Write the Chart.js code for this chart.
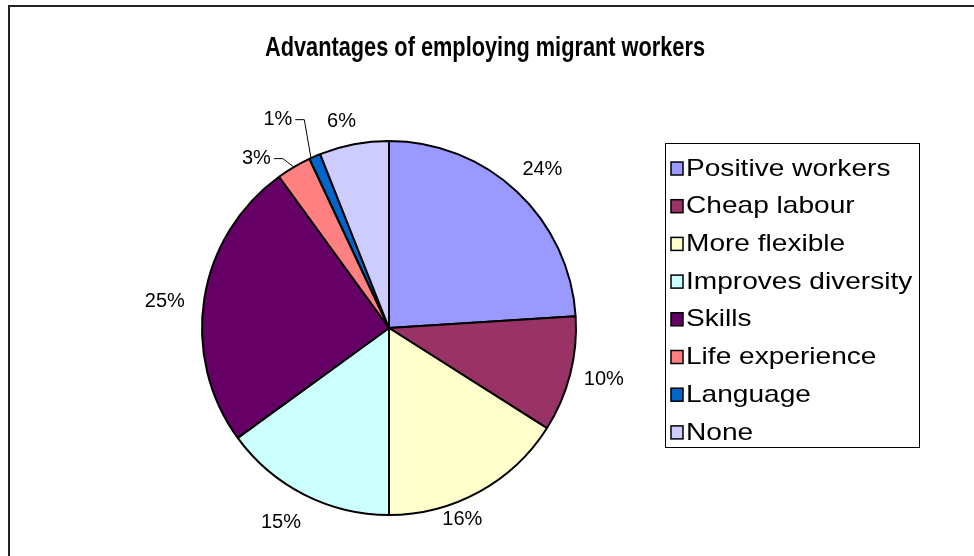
<!DOCTYPE html>
<html>
<head>
<meta charset="utf-8">
<script src="https://cdn.jsdelivr.net/npm/chart.js@4/dist/chart.umd.min.js"></script>
<style>
  html, body { margin: 0; padding: 0; background: #ffffff; }
  #wrap { position: relative; width: 974px; height: 556px; }
  canvas { display: block; }
</style>
</head>
<body>
<div id="wrap"><canvas id="pie" width="974" height="556"></canvas></div>
<script>
// Survey answers: advantages of employing migrant workers (percent of replies)
const chartTitle = 'Advantages of employing migrant workers';
const categories = ['Positive workers', 'Cheap labour', 'More flexible', 'Improves diversity',
                    'Skills', 'Life experience', 'Language', 'None'];
const shares = [24, 10, 16, 15, 25, 3, 1, 6];
const sliceColors = ['#9999FF', '#993366', '#FFFFCC', '#CCFFFF', '#660066', '#FF8080', '#0066CC', '#CCCCFF'];

// Geometry / styling
const W = 974, H = 556;
const CX = 389, CY = 328, R = 187;
const FONT = '"Liberation Sans", Arial, Helvetica, sans-serif';
const LABEL_GAP = 40;
// small per-slice adjustments of the percentage labels (px)
const labelNudge = [[-2, 7], [-5, -5], [-36, -7], [-5, -8], [0, 9], [-17, 26], [-21, 0], [-5, 16]];
// slices whose labels are joined to the pie by a leader line, with the angle
// (fraction of the slice, 0..1) where the line meets the rim
const leaderSlices = { 5: 0.5, 6: 0.15 };

// draw text squeezed or widened horizontally so that it spans `width` px
function fitText(ctx, text, x, y, width, align) {
  const natural = ctx.measureText(text).width;
  const sx = width / natural;
  ctx.save();
  ctx.translate(x, y);
  ctx.scale(sx, 1);
  ctx.textAlign = align;
  ctx.fillText(text, 0, 0);
  ctx.restore();
}

const frame = {
  id: 'frame',
  beforeDraw(chart) {
    const ctx = chart.ctx;
    ctx.save();
    ctx.fillStyle = '#ffffff';
    ctx.fillRect(0, 0, W, H);
    ctx.strokeStyle = '#222222';
    ctx.lineWidth = 2;
    ctx.strokeRect(9, 6, W + 20, H + 20);
    ctx.fillStyle = '#000000';
    ctx.font = 'bold 27px ' + FONT;
    ctx.textBaseline = 'middle';
    fitText(ctx, chartTitle, 485, 49, 440, 'center');
    ctx.restore();
  }
};

const sliceLabels = {
  id: 'sliceLabels',
  afterDatasetsDraw(chart) {
    const ctx = chart.ctx;
    const meta = chart.getDatasetMeta(0);
    const total = shares.reduce((a, b) => a + b, 0);
    ctx.save();
    ctx.font = '20px ' + FONT;
    ctx.fillStyle = '#000000';
    ctx.textAlign = 'center';
    ctx.textBaseline = 'middle';
    meta.data.forEach((arc, i) => {
      const p = arc.getProps(['x', 'y', 'startAngle', 'endAngle', 'outerRadius'], true);
      const mid = (p.startAngle + p.endAngle) / 2;
      const d = p.outerRadius + LABEL_GAP;
      const lx = p.x + Math.cos(mid) * d + labelNudge[i][0];
      const ly = p.y + Math.sin(mid) * d + labelNudge[i][1];
      const text = Math.round(shares[i] / total * 100) + '%';
      ctx.fillText(text, lx, ly);
      if (i in leaderSlices) {
        const tw = ctx.measureText(text).width;
        const a = p.startAngle + (p.endAngle - p.startAngle) * leaderSlices[i];
        const ex = p.x + Math.cos(a) * p.outerRadius;
        const ey = p.y + Math.sin(a) * p.outerRadius;
        const sx = lx + tw / 2 + 3;
        ctx.beginPath();
        ctx.strokeStyle = '#000000';
        ctx.lineWidth = 1;
        ctx.moveTo(sx, ly);
        ctx.lineTo(sx + 9, ly);
        ctx.lineTo(ex, ey);
        ctx.stroke();
      }
    });
    ctx.restore();
  }
};

const boxedLegend = {
  id: 'boxedLegend',
  afterDraw(chart) {
    const ctx = chart.ctx;
    const x0 = 665, y0 = 143, w = 254, h = 304;
    const rowH = 37.7, first = 168;
    ctx.save();
    ctx.strokeStyle = '#000000';
    ctx.lineWidth = 1;
    ctx.strokeRect(x0 + 0.5, y0 + 0.5, w, h);
    ctx.font = '24px ' + FONT;
    ctx.textBaseline = 'middle';
    categories.forEach((name, i) => {
      const cy = first + i * rowH;
      ctx.fillStyle = sliceColors[i];
      ctx.fillRect(671, cy - 6, 12, 13);
      ctx.lineWidth = 1.5;
      ctx.strokeStyle = '#000000';
      ctx.strokeRect(671, cy - 6, 12, 13);
      ctx.fillStyle = '#000000';
      const wNat = ctx.measureText(name).width;
      fitText(ctx, name, 686, cy + 1, wNat * 1.17, 'left');
    });
    ctx.restore();
  }
};

new Chart(document.getElementById('pie'), {
  type: 'pie',
  data: {
    labels: categories,
    datasets: [{
      data: shares,
      backgroundColor: sliceColors,
      borderColor: '#000000',
      borderWidth: 2,
      hoverOffset: 0,
      offset: 0,
      radius: R
    }]
  },
  options: {
    responsive: false,
    animation: false,
    events: [],
    layout: {
      padding: { left: CX - R, right: W - (CX + R), top: CY - R, bottom: H - (CY + R) }
    },
    plugins: {
      legend: { display: false },
      title: { display: false },
      tooltip: { enabled: false }
    }
  },
  plugins: [frame, sliceLabels, boxedLegend]
});
</script>
</body>
</html>
